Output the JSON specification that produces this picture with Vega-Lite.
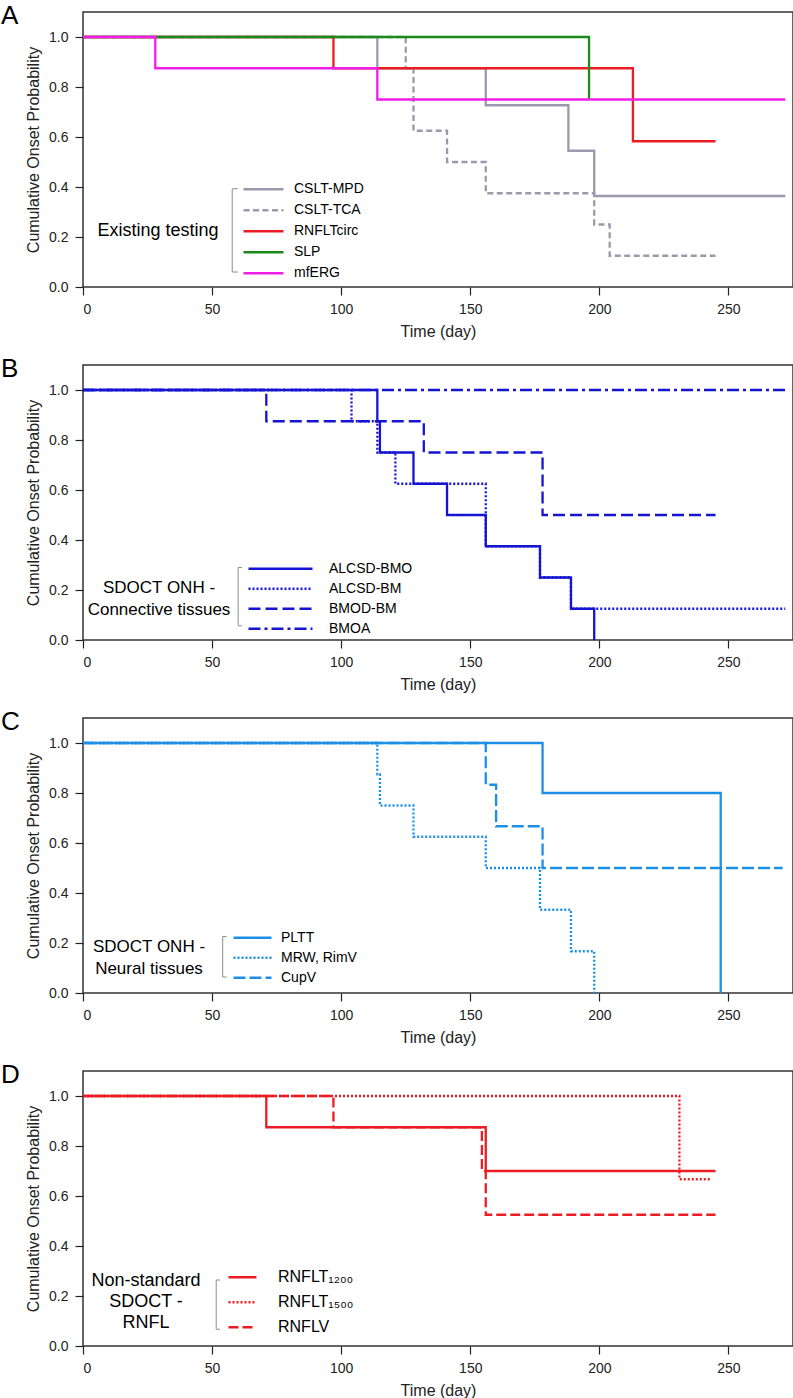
{
  "$schema": "https://vega.github.io/schema/vega-lite/v6.json",
  "background": "white",
  "padding": {"left": 0, "top": 2, "right": 0, "bottom": 0},
  "bounds": "flush",
  "spacing": 78,
  "config": {
    "font": "Liberation Sans",
    "view": {"stroke": "#333333", "strokeWidth": 1.5},
    "axis": {
      "domain": false, "grid": false, "ticks": true, "tickSize": 8, "tickColor": "#222222", "tickWidth": 1.2,
      "labelFontSize": 14, "labelColor": "#222222", "labelPadding": 7,
      "titleFontSize": 16, "titleFontWeight": "normal", "titleColor": "#222222", "titlePadding": 7
    },
    "legend": {"padding": 0, "titleFontWeight": "normal", "titleColor": "black", "labelColor": "black", "rowPadding": 0, "direction": "vertical", "titleOrient": "left", "titleAnchor": "middle", "titleAlign": "center", "titleBaseline": "middle", "symbolType": "stroke", "symbolStrokeWidth": 2.5, "titleLimit": 300, "labelLimit": 300},
    "title": {"fontSize": 26, "fontWeight": "normal", "color": "black", "anchor": "start", "frame": "group"}
  },
  "resolve": {
    "scale": {"color": "independent", "strokeDash": "independent", "x": "independent", "y": "independent"},
    "legend": {"color": "independent", "strokeDash": "independent"}
  },
  "datasets": {
    "A": [
      {"series": "CSLT-TCA", "day": 0, "p": 1},
      {"series": "CSLT-TCA", "day": 125, "p": 0.875},
      {"series": "CSLT-TCA", "day": 128, "p": 0.625},
      {"series": "CSLT-TCA", "day": 141, "p": 0.5},
      {"series": "CSLT-TCA", "day": 156, "p": 0.375},
      {"series": "CSLT-TCA", "day": 198, "p": 0.25},
      {"series": "CSLT-TCA", "day": 204, "p": 0.125},
      {"series": "CSLT-TCA", "day": 245, "p": 0.125},
      {"series": "CSLT-MPD", "day": 0, "p": 1},
      {"series": "CSLT-MPD", "day": 114, "p": 0.875},
      {"series": "CSLT-MPD", "day": 156, "p": 0.727},
      {"series": "CSLT-MPD", "day": 188, "p": 0.545},
      {"series": "CSLT-MPD", "day": 198, "p": 0.364},
      {"series": "CSLT-MPD", "day": 272, "p": 0.364},
      {"series": "RNFLTcirc", "day": 0, "p": 1},
      {"series": "RNFLTcirc", "day": 97, "p": 0.875},
      {"series": "RNFLTcirc", "day": 213, "p": 0.583},
      {"series": "RNFLTcirc", "day": 245, "p": 0.583},
      {"series": "SLP", "day": 0, "p": 1},
      {"series": "SLP", "day": 196, "p": 0.75},
      {"series": "mfERG", "day": 0, "p": 1},
      {"series": "mfERG", "day": 28, "p": 0.875},
      {"series": "mfERG", "day": 114, "p": 0.75},
      {"series": "mfERG", "day": 272, "p": 0.75}
    ],
    "B": [
      {"series": "BMOA", "day": 0, "p": 1},
      {"series": "BMOA", "day": 272, "p": 1},
      {"series": "BMOD-BM", "day": 0, "p": 1},
      {"series": "BMOD-BM", "day": 71, "p": 0.875},
      {"series": "BMOD-BM", "day": 132, "p": 0.75},
      {"series": "BMOD-BM", "day": 178, "p": 0.5},
      {"series": "BMOD-BM", "day": 245, "p": 0.5},
      {"series": "ALCSD-BM", "day": 0, "p": 1},
      {"series": "ALCSD-BM", "day": 104, "p": 0.875},
      {"series": "ALCSD-BM", "day": 114, "p": 0.75},
      {"series": "ALCSD-BM", "day": 121, "p": 0.625},
      {"series": "ALCSD-BM", "day": 156, "p": 0.375},
      {"series": "ALCSD-BM", "day": 177, "p": 0.25},
      {"series": "ALCSD-BM", "day": 189, "p": 0.125},
      {"series": "ALCSD-BM", "day": 272, "p": 0.125},
      {"series": "ALCSD-BMO", "day": 0, "p": 1},
      {"series": "ALCSD-BMO", "day": 114, "p": 0.875},
      {"series": "ALCSD-BMO", "day": 115, "p": 0.75},
      {"series": "ALCSD-BMO", "day": 128, "p": 0.625},
      {"series": "ALCSD-BMO", "day": 141, "p": 0.5},
      {"series": "ALCSD-BMO", "day": 156, "p": 0.375},
      {"series": "ALCSD-BMO", "day": 177, "p": 0.25},
      {"series": "ALCSD-BMO", "day": 189, "p": 0.125},
      {"series": "ALCSD-BMO", "day": 198, "p": 0}
    ],
    "C": [
      {"series": "CupV", "day": 0, "p": 1},
      {"series": "CupV", "day": 156, "p": 0.833},
      {"series": "CupV", "day": 160, "p": 0.667},
      {"series": "CupV", "day": 178, "p": 0.5},
      {"series": "CupV", "day": 271, "p": 0.5},
      {"series": "MRW, RimV", "day": 0, "p": 1},
      {"series": "MRW, RimV", "day": 114, "p": 0.875},
      {"series": "MRW, RimV", "day": 115, "p": 0.75},
      {"series": "MRW, RimV", "day": 128, "p": 0.625},
      {"series": "MRW, RimV", "day": 156, "p": 0.5},
      {"series": "MRW, RimV", "day": 177, "p": 0.333},
      {"series": "MRW, RimV", "day": 189, "p": 0.167},
      {"series": "MRW, RimV", "day": 198, "p": 0},
      {"series": "PLTT", "day": 0, "p": 1},
      {"series": "PLTT", "day": 178, "p": 0.8},
      {"series": "PLTT", "day": 247, "p": 0}
    ],
    "D": [
      {"series": "RNFLT₁₅₀₀", "day": 0, "p": 1},
      {"series": "RNFLT₁₅₀₀", "day": 231, "p": 0.667},
      {"series": "RNFLT₁₅₀₀", "day": 243.5, "p": 0.667},
      {"series": "RNFLV", "day": 0, "p": 1},
      {"series": "RNFLV", "day": 97, "p": 0.875},
      {"series": "RNFLV", "day": 154.5, "p": 0.7},
      {"series": "RNFLV", "day": 156, "p": 0.525},
      {"series": "RNFLV", "day": 245, "p": 0.525},
      {"series": "RNFLT₁₂₀₀", "day": 0, "p": 1},
      {"series": "RNFLT₁₂₀₀", "day": 71, "p": 0.875},
      {"series": "RNFLT₁₂₀₀", "day": 156, "p": 0.7},
      {"series": "RNFLT₁₂₀₀", "day": 245, "p": 0.7}
    ]
  },
  "vconcat": [
    {
      "width": 710, "height": 275,
      "title": {"text": "A", "dx": -82, "offset": -38, "baseline": "alphabetic"},
      "layer": [
        {"data": {"values": [{}]}, "mark": {"type": "rule", "color": "#8c8c8c", "strokeWidth": 1}, "encoding": {"x": {"datum": 57.8, "type": "quantitative"}, "y": {"datum": 0.06, "type": "quantitative"}, "y2": {"datum": 0.393}}},
        {"data": {"values": [{}]}, "mark": {"type": "rule", "color": "#8c8c8c", "strokeWidth": 1}, "encoding": {"x": {"datum": 57.8, "type": "quantitative"}, "x2": {"datum": 60}, "y": {"datum": 0.393, "type": "quantitative"}}},
        {"data": {"values": [{}]}, "mark": {"type": "rule", "color": "#8c8c8c", "strokeWidth": 1}, "encoding": {"x": {"datum": 57.8, "type": "quantitative"}, "x2": {"datum": 60}, "y": {"datum": 0.06, "type": "quantitative"}}},
        {
          "data": {"name": "A"},
          "mark": {"type": "line", "interpolate": "step-after", "strokeWidth": 2.3},
          "encoding": {
            "x": {"field": "day", "type": "quantitative", "scale": {"domain": [0, 275], "nice": false, "zero": false}, "axis": {"values": [0, 50, 100, 150, 200, 250], "title": "Time (day)"}},
            "y": {"field": "p", "type": "quantitative", "scale": {"domain": [0, 1.1], "nice": false}, "axis": {"values": [0, 0.2, 0.4, 0.6, 0.8, 1.0], "format": ".1f", "title": "Cumulative Onset Probability"}},
            "color": {"field": "series", "type": "nominal", "scale": {"domain": ["CSLT-MPD", "CSLT-TCA", "RNFLTcirc", "SLP", "mfERG"], "range": ["#9a9aac", "#9a9aac", "#ec1c24", "#1a8a1a", "#f01ee6"]},
              "legend": {"title": "Existing testing", "orient": "none", "legendX": 14, "legendY": 167, "titleFontSize": 18, "titlePadding": -38, "symbolSize": 1600, "labelFontSize": 14, "labelOffset": 9, "clipHeight": 20.6}},
            "strokeDash": {"field": "series", "type": "nominal", "scale": {"domain": ["CSLT-MPD", "CSLT-TCA", "RNFLTcirc", "SLP", "mfERG"], "range": [[1, 0], [6, 3.5], [1, 0], [1, 0], [1, 0]]},
              "legend": {"title": "Existing testing", "orient": "none", "legendX": 14, "legendY": 167, "titleFontSize": 18, "titlePadding": -38, "symbolSize": 1600, "labelFontSize": 14, "labelOffset": 9, "clipHeight": 20.6}}
          }
        }
      ]
    },
    {
      "width": 710, "height": 275,
      "title": {"text": "B", "dx": -82, "offset": -38, "baseline": "alphabetic"},
      "layer": [
        {"data": {"values": [{}]}, "mark": {"type": "rule", "color": "#8c8c8c", "strokeWidth": 1}, "encoding": {"x": {"datum": 60.1, "type": "quantitative"}, "y": {"datum": 0.057, "type": "quantitative"}, "y2": {"datum": 0.29}}},
        {"data": {"values": [{}]}, "mark": {"type": "rule", "color": "#8c8c8c", "strokeWidth": 1}, "encoding": {"x": {"datum": 60.1, "type": "quantitative"}, "x2": {"datum": 61.5}, "y": {"datum": 0.29, "type": "quantitative"}}},
        {"data": {"values": [{}]}, "mark": {"type": "rule", "color": "#8c8c8c", "strokeWidth": 1}, "encoding": {"x": {"datum": 60.1, "type": "quantitative"}, "x2": {"datum": 61.5}, "y": {"datum": 0.057, "type": "quantitative"}}},
        {
          "data": {"name": "B"},
          "mark": {"type": "line", "interpolate": "step-after", "strokeWidth": 2.3},
          "encoding": {
            "x": {"field": "day", "type": "quantitative", "scale": {"domain": [0, 275], "nice": false, "zero": false}, "axis": {"values": [0, 50, 100, 150, 200, 250], "title": "Time (day)"}},
            "y": {"field": "p", "type": "quantitative", "scale": {"domain": [0, 1.1], "nice": false}, "axis": {"values": [0, 0.2, 0.4, 0.6, 0.8, 1.0], "format": ".1f", "title": "Cumulative Onset Probability"}},
            "color": {"field": "series", "type": "nominal", "scale": {"domain": ["ALCSD-BMO", "ALCSD-BM", "BMOD-BM", "BMOA"], "range": ["#1414d2", "#1414d2", "#1414d2", "#1414d2"]},
              "legend": {"title": ["SDOCT ONH -", "Connective tissues"], "orient": "none", "legendX": 5, "legendY": 194, "titleFontSize": 17, "titleLineHeight": 22, "titlePadding": -55, "symbolSize": 4096, "labelFontSize": 14, "labelOffset": 15, "clipHeight": 19.3}},
            "strokeDash": {"field": "series", "type": "nominal", "scale": {"domain": ["ALCSD-BMO", "ALCSD-BM", "BMOD-BM", "BMOA"], "range": [[1, 0], [2, 2], [12, 5], [12, 4, 3, 4]]},
              "legend": {"title": ["SDOCT ONH -", "Connective tissues"], "orient": "none", "legendX": 5, "legendY": 194, "titleFontSize": 17, "titleLineHeight": 22, "titlePadding": -55, "symbolSize": 4096, "labelFontSize": 14, "labelOffset": 15, "clipHeight": 19.3}}
          }
        }
      ]
    },
    {
      "width": 710, "height": 275,
      "title": {"text": "C", "dx": -82, "offset": -38, "baseline": "alphabetic"},
      "layer": [
        {"data": {"values": [{}]}, "mark": {"type": "rule", "color": "#8c8c8c", "strokeWidth": 1}, "encoding": {"x": {"datum": 54.1, "type": "quantitative"}, "y": {"datum": 0.064, "type": "quantitative"}, "y2": {"datum": 0.226}}},
        {"data": {"values": [{}]}, "mark": {"type": "rule", "color": "#8c8c8c", "strokeWidth": 1}, "encoding": {"x": {"datum": 54.1, "type": "quantitative"}, "x2": {"datum": 55.6}, "y": {"datum": 0.226, "type": "quantitative"}}},
        {"data": {"values": [{}]}, "mark": {"type": "rule", "color": "#8c8c8c", "strokeWidth": 1}, "encoding": {"x": {"datum": 54.1, "type": "quantitative"}, "x2": {"datum": 55.6}, "y": {"datum": 0.064, "type": "quantitative"}}},
        {
          "data": {"name": "C"},
          "mark": {"type": "line", "interpolate": "step-after", "strokeWidth": 2.3},
          "encoding": {
            "x": {"field": "day", "type": "quantitative", "scale": {"domain": [0, 275], "nice": false, "zero": false}, "axis": {"values": [0, 50, 100, 150, 200, 250], "title": "Time (day)"}},
            "y": {"field": "p", "type": "quantitative", "scale": {"domain": [0, 1.1], "nice": false}, "axis": {"values": [0, 0.2, 0.4, 0.6, 0.8, 1.0], "format": ".1f", "title": "Cumulative Onset Probability"}},
            "color": {"field": "series", "type": "nominal", "scale": {"domain": ["PLTT", "MRW, RimV", "CupV"], "range": ["#1e8fe6", "#1e8fe6", "#1e8fe6"]},
              "legend": {"title": ["SDOCT ONH -", "Neural tissues"], "orient": "none", "legendX": 10, "legendY": 210, "titleFontSize": 17, "titleLineHeight": 22, "titlePadding": -30, "symbolSize": 1444, "labelFontSize": 14, "labelOffset": 8, "clipHeight": 19.3}},
            "strokeDash": {"field": "series", "type": "nominal", "scale": {"domain": ["PLTT", "MRW, RimV", "CupV"], "range": [[1, 0], [2, 2], [12, 4]]},
              "legend": {"title": ["SDOCT ONH -", "Neural tissues"], "orient": "none", "legendX": 10, "legendY": 210, "titleFontSize": 17, "titleLineHeight": 22, "titlePadding": -30, "symbolSize": 1444, "labelFontSize": 14, "labelOffset": 8, "clipHeight": 19.3}}
          }
        }
      ]
    },
    {
      "width": 710, "height": 275,
      "title": {"text": "D", "dx": -82, "offset": -38, "baseline": "alphabetic"},
      "layer": [
        {"data": {"values": [{}]}, "mark": {"type": "rule", "color": "#8c8c8c", "strokeWidth": 1}, "encoding": {"x": {"datum": 51.6, "type": "quantitative"}, "y": {"datum": 0.067, "type": "quantitative"}, "y2": {"datum": 0.264}}},
        {"data": {"values": [{}]}, "mark": {"type": "rule", "color": "#8c8c8c", "strokeWidth": 1}, "encoding": {"x": {"datum": 51.6, "type": "quantitative"}, "x2": {"datum": 53.1}, "y": {"datum": 0.264, "type": "quantitative"}}},
        {"data": {"values": [{}]}, "mark": {"type": "rule", "color": "#8c8c8c", "strokeWidth": 1}, "encoding": {"x": {"datum": 51.6, "type": "quantitative"}, "x2": {"datum": 53.1}, "y": {"datum": 0.067, "type": "quantitative"}}},
        {
          "data": {"name": "D"},
          "mark": {"type": "line", "interpolate": "step-after", "strokeWidth": 2.3},
          "encoding": {
            "x": {"field": "day", "type": "quantitative", "scale": {"domain": [0, 275], "nice": false, "zero": false}, "axis": {"values": [0, 50, 100, 150, 200, 250], "title": "Time (day)"}},
            "y": {"field": "p", "type": "quantitative", "scale": {"domain": [0, 1.1], "nice": false}, "axis": {"values": [0, 0.2, 0.4, 0.6, 0.8, 1.0], "format": ".1f", "title": "Cumulative Onset Probability"}},
            "color": {"field": "series", "type": "nominal", "scale": {"domain": ["RNFLT₁₂₀₀", "RNFLT₁₅₀₀", "RNFLV"], "range": ["#ec1c24", "#ec1c24", "#ec1c24"]},
              "legend": {"title": ["Non-standard", "SDOCT -", "RNFL"], "orient": "none", "legendX": 8, "legendY": 194, "titleFontSize": 18, "titleLineHeight": 21, "titlePadding": -29, "symbolSize": 784, "labelFontSize": 16, "labelOffset": 20, "clipHeight": 24.7}},
            "strokeDash": {"field": "series", "type": "nominal", "scale": {"domain": ["RNFLT₁₂₀₀", "RNFLT₁₅₀₀", "RNFLV"], "range": [[1, 0], [2, 2], [10, 4]]},
              "legend": {"title": ["Non-standard", "SDOCT -", "RNFL"], "orient": "none", "legendX": 8, "legendY": 194, "titleFontSize": 18, "titleLineHeight": 21, "titlePadding": -29, "symbolSize": 784, "labelFontSize": 16, "labelOffset": 20, "clipHeight": 24.7}}
          }
        }
      ]
    }
  ]
}
